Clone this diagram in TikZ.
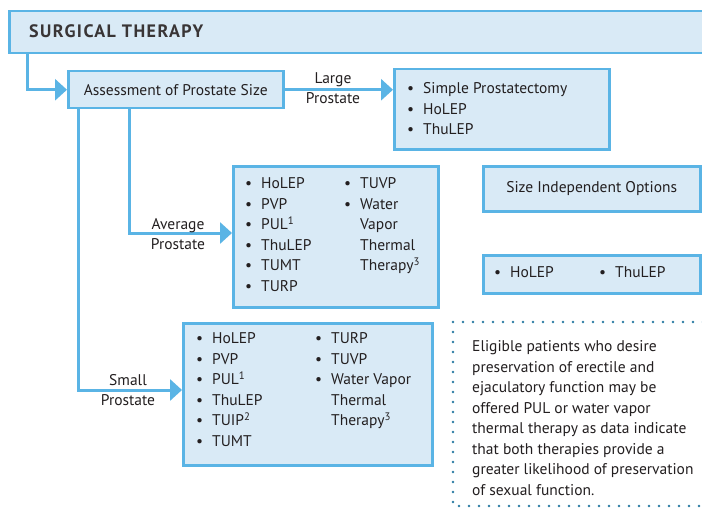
\documentclass[tikz,border=0pt]{standalone}
\usepackage{fontspec}
\setmainfont{PT Sans}
\usetikzlibrary{arrows.meta,calc}
\definecolor{boxblue}{HTML}{5AB4E5}
\definecolor{boxfill}{HTML}{D9EAF6}
\definecolor{dotblue}{HTML}{2B7BA3}
\definecolor{txt}{HTML}{231F20}
\newcommand\fsz{\fontsize{15.5}{20.5}\selectfont}
\newcommand\bu{\makebox[16pt][l]{\textbullet}}
\newcommand\ind{\hspace*{16pt}}
\begin{document}
\begin{tikzpicture}[x=1pt,y=-1pt,
  box/.style={draw=boxblue,fill=boxfill,line width=2.5pt,inner sep=0pt,anchor=north west,font=\fsz,text=txt},
  conn/.style={draw=boxblue,line width=3pt,-{Triangle[length=12pt,width=21pt]}},
  lbl/.style={font=\fsz,text=txt,align=center,inner sep=0pt},
  lst/.style={font=\fsz,text=txt,anchor=north west,inner sep=0pt},
  dotline/.style={draw=dotblue,line width=2.6pt,line cap=round,dash pattern=on 0pt off 10pt}
]
\useasboundingbox[fill=white] (0,0) rectangle (702,511);
% header
\node[box,minimum width=710pt,minimum height=42pt] (header) at (8,10) {};
\node[anchor=west,inner sep=0pt,font=\fontsize{18}{20}\selectfont\bfseries\addfontfeature{LetterSpace=8},text=txt!90] (htitle) at (29,31) {SURGICAL THERAPY};
% assessment
\node[box,minimum width=215pt,minimum height=37pt] (assess) at (67,70) {Assessment of Prostate Size};
% large
\node[box,minimum width=215pt,minimum height=80pt] (large) at (393,68) {};
\node[lst] (largelist) at (407,79) {\begin{tabular}{@{}l@{}}\bu Simple Prostatectomy\\ \bu HoLEP\\ \bu ThuLEP\end{tabular}};
% average
\node[box,minimum width=205pt,minimum height=141pt] (avg) at (232,165) {};
\node[lst] (avg1) at (245,174) {\begin{tabular}{@{}l@{}}\bu HoLEP\\ \bu PVP\\ \bu PUL\textsuperscript{1}\\ \bu ThuLEP\\ \bu TUMT\\ \bu TURP\end{tabular}};
\node[lst] (avg2) at (344,174) {\begin{tabular}{@{}l@{}}\bu TUVP\\ \bu Water\\ \ind Vapor\\ \ind Thermal\\ \ind Therapy\textsuperscript{3}\end{tabular}};
% small
\node[box,minimum width=249pt,minimum height=142pt] (small) at (182,322) {};
\node[lst] (small1) at (196,329) {\begin{tabular}{@{}l@{}}\bu HoLEP\\ \bu PVP\\ \bu PUL\textsuperscript{1}\\ \bu ThuLEP\\ \bu TUIP\textsuperscript{2}\\ \bu TUMT\end{tabular}};
\node[lst] (small2) at (315,329) {\begin{tabular}{@{}l@{}}\bu TURP\\ \bu TUVP\\ \bu Water Vapor\\ \ind Thermal\\ \ind Therapy\textsuperscript{3}\end{tabular}};
% size independent
\node[box,minimum width=217pt,minimum height=45pt] (sizeind) at (482,165) {Size Independent Options};
\node[box,minimum width=217pt,minimum height=38pt] (sizeopt) at (482,254) {};
\node[lst] (sizeopt1) at (494,263) {\begin{tabular}{@{}l@{}}\bu HoLEP\end{tabular}};
\node[lst] (sizeopt2) at (599,263) {\begin{tabular}{@{}l@{}}\bu ThuLEP\end{tabular}};
% connectors
\draw[conn] ($(header.south west)+(19,0)$) |- (assess.west);
\draw[conn] (assess.east) -- (large.west |- assess.east);
\draw[conn] ($(assess.south west)+(62,0)$) |- ($(avg.north west)+(0,68)$);
\draw[conn] ($(assess.south west)+(11,0)$) |- ($(small.north west)+(0,68)$);
\node[lbl] (llarge) at (333,88) {Large\\Prostate};
\node[lbl] (lavg) at (178,234) {Average\\Prostate};
\node[lbl] (lsmall) at (128,390) {Small\\Prostate};
% note
\draw[dotline] (713,322) -- (453,322) -- (453,506) -- (713,506);
\node[lst] (note) at (472,337) {\begin{tabular}{@{}l@{}}Eligible patients who desire\\ preservation of erectile and\\ ejaculatory function may be\\ offered PUL or water vapor\\ thermal therapy as data indicate\\ that both therapies provide a\\ greater likelihood of preservation\\ of sexual function.\end{tabular}};
\end{tikzpicture}
\end{document}
